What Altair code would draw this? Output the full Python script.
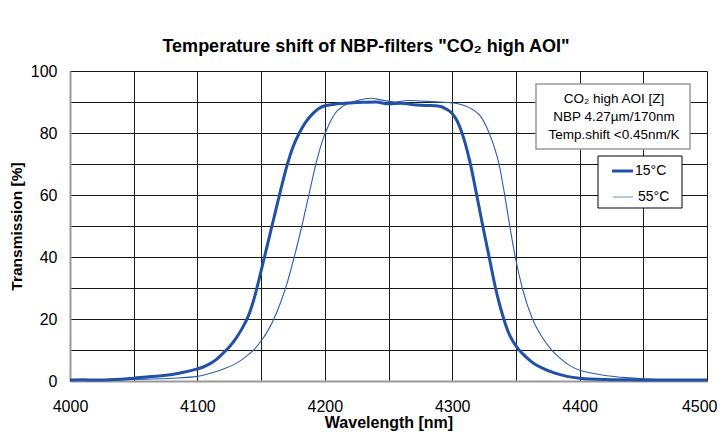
import altair as alt
import pandas as pd

# 15°C curve
wl_15 = [4000, 4010, 4020, 4030, 4040, 4050, 4060, 4070, 4080, 4090, 4100, 4105, 4110, 4115,
         4120, 4125, 4130, 4135, 4140, 4145, 4150, 4155, 4160, 4165, 4170, 4175, 4180, 4185,
         4190, 4195, 4200, 4210, 4220, 4230, 4240, 4250, 4260, 4270, 4280, 4290, 4295, 4300,
         4304, 4307, 4310, 4314, 4319, 4324, 4329, 4334, 4337, 4340.5, 4344, 4348, 4352, 4356,
         4360, 4365, 4370, 4380, 4390, 4400, 4420, 4440, 4460, 4480, 4500]
t_15 = [0.3, 0.4, 0.3, 0.4, 0.6, 0.9, 1.3, 1.6, 2.1, 2.9, 3.9, 4.6, 5.6, 7.0,
        8.9, 11.0, 13.6, 16.9, 21.0, 27.3, 35.5, 44.0, 52.5, 61.0, 69.0, 75.5, 80.0, 83.5,
        86.0, 87.8, 88.8, 89.4, 89.7, 89.9, 90.0, 89.4, 89.6, 89.1, 88.9, 88.6, 87.8, 86.3,
        83.8, 80.8, 77.0, 70.5, 60.5, 50.0, 40.0, 30.0, 25.0, 20.0, 15.8, 12.6, 10.3, 8.5,
        7.0, 5.4, 4.3, 2.6, 1.5, 0.9, 0.5, 0.4, 0.3, 0.3, 0.3]

# 55°C curve
wl_55 = [4000, 4020, 4040, 4060, 4080, 4100, 4110, 4120, 4130, 4135, 4140, 4145, 4150, 4155,
         4160, 4165, 4170, 4176, 4182, 4187.5, 4193, 4199, 4203, 4208, 4214, 4220, 4228, 4236,
         4245, 4255, 4265, 4275, 4290, 4300, 4310, 4316, 4322, 4329, 4333, 4337, 4341, 4345,
         4349.5, 4355, 4363, 4370, 4377, 4385, 4393, 4400, 4410, 4420, 4440, 4460, 4480, 4500]
t_55 = [0.3, 0.3, 0.4, 0.6, 0.9, 1.5, 2.5, 3.8, 5.6, 6.9, 8.5, 10.4, 12.9, 16.0,
        20.0, 25.0, 31.0, 40.0, 50.0, 60.0, 70.0, 78.5, 82.5, 86.3, 88.6, 89.8, 90.7, 91.2,
        90.6, 90.0, 90.5, 90.3, 90.0, 89.7, 88.8, 87.6, 85.5, 80.0, 75.5, 69.5, 60.5, 50.5,
        40.0, 30.0, 20.0, 14.5, 10.5, 7.2, 4.8, 3.5, 2.5, 1.8, 1.0, 0.5, 0.3, 0.3]

x_ticks = list(range(4000, 4501, 50))
y_ticks = list(range(0, 101, 10))

title_text = 'Temperature shift of NBP-filters "CO\u2082 high AOI"'
info_lines = ["CO\u2082 high AOI [Z]", "NBP 4.27\u00b5m/170nm", "Temp.shift <0.45nm/K"]
legend_labels = ["15\u00b0C", "55\u00b0C"]

FONT = "Liberation Sans"
C15 = "#2150A6"
C55 = "#2C5DB8"

df15 = pd.DataFrame({"wl": wl_15, "T": t_15})
df55 = pd.DataFrame({"wl": wl_55, "T": t_55})
one = pd.DataFrame({"a": [0]})

xs = alt.Scale(domain=[4000, 4500], nice=False)
ys = alt.Scale(domain=[0, 100], nice=False)

x_enc = alt.X("wl:Q", scale=xs, axis=alt.Axis(
    values=x_ticks, format="d", title="Wavelength [nm]",
    labelExpr="datum.value % 100 == 0 ? datum.label : ''",
    labelAlign={"condition": {"test": "datum.value == 4500", "value": "right"}, "value": "center"},
    labelOffset={"condition": {"test": "datum.value == 4500", "value": 10}, "value": 0},
    grid=True, gridColor="#1a1a1a", gridWidth=1, ticks=False,
    domainColor="#999999", domainWidth=2,
    labelFont=FONT, labelFontSize=16, labelColor="black", labelPadding=17,
    titleFont=FONT, titleFontSize=16, titleFontWeight="bold", titleColor="black",
    titlePadding=0, labelFlush=False))
y_enc = alt.Y("T:Q", scale=ys, axis=alt.Axis(
    values=y_ticks, title="Transmission [%]",
    labelExpr="datum.value % 20 == 0 ? datum.label : ''",
    grid=True, gridColor="#1a1a1a", gridWidth=1, ticks=False,
    domainColor="#999999", domainWidth=2,
    labelFont=FONT, labelFontSize=16, labelColor="black", labelPadding=13,
    titleFont=FONT, titleFontSize=15.5, titleFontWeight="bold", titleColor="black",
    titlePadding=6))

line55 = alt.Chart(df55).mark_line(color=C55, strokeWidth=1.1, interpolate="monotone").encode(x=x_enc, y=y_enc)
line15 = alt.Chart(df15).mark_line(color=C15, strokeWidth=3, interpolate="monotone").encode(x=x_enc, y=y_enc)

title = alt.Chart(one).mark_text(text=title_text, font=FONT, fontSize=18, fontWeight="bold",
                                 align="center", baseline="middle", color="black").encode(
    x=alt.value(296), y=alt.value(-24))

info_box = alt.Chart(one).mark_rect(fill="white", stroke="#999999", strokeWidth=1.5).encode(
    x=alt.value(466), x2=alt.value(620), y=alt.value(13), y2=alt.value(78))
info_text = [
    alt.Chart(one).mark_text(text=t, font=FONT, fontSize=13.5, align="center", baseline="middle",
                             color="black").encode(x=alt.value(544), y=alt.value(yy))
    for t, yy in zip(info_lines, [28, 46, 64])
]

leg_box = alt.Chart(one).mark_rect(fill="white", stroke="black", strokeWidth=1).encode(
    x=alt.value(528), x2=alt.value(612), y=alt.value(85), y2=alt.value(137))
leg_l1 = alt.Chart(one).mark_rule(color=C15, strokeWidth=3).encode(
    x=alt.value(542), x2=alt.value(563), y=alt.value(100))
leg_l2 = alt.Chart(one).mark_rule(color="#6E8FD0", strokeWidth=1).encode(
    x=alt.value(543), x2=alt.value(563), y=alt.value(126))
leg_t1 = alt.Chart(one).mark_text(text=legend_labels[0], font=FONT, fontSize=14, align="left",
                                  baseline="middle", color="black").encode(x=alt.value(565), y=alt.value(100))
leg_t2 = alt.Chart(one).mark_text(text=legend_labels[1], font=FONT, fontSize=14, align="left",
                                  baseline="middle", color="black").encode(x=alt.value(568), y=alt.value(126))

chart = alt.layer(line55, line15, title, info_box, *info_text, leg_box, leg_l1, leg_l2, leg_t1, leg_t2).properties(
    width=637, height=310,
    padding={"left": 62, "top": 63, "right": 10, "bottom": 50},
    autosize=alt.AutoSizeParams(type="none"),
).configure_view(stroke="#999999", strokeWidth=2).configure(background="white")

chart.save("out.html", embed_options={"renderer": "svg", "actions": False})
